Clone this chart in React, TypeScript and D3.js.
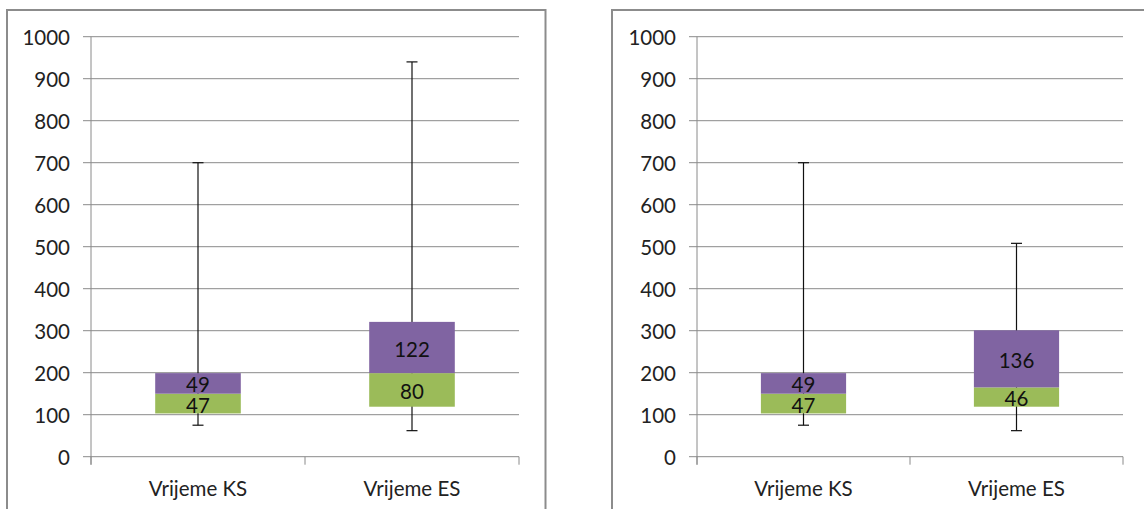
import React from "react";
import * as d3 from "d3";

const categories = ["Vrijeme KS", "Vrijeme ES"];
const yTicks = [0, 100, 200, 300, 400, 500, 600, 700, 800, 900, 1000];

// left panel
const leftMin = [75, 62];
const leftQ1 = [103, 119];
const leftLower = [47, 80];
const leftUpper = [49, 122];
const leftMax = [700, 940];

// right panel
const rightMin = [75, 62];
const rightQ1 = [103, 119];
const rightLower = [47, 46];
const rightUpper = [49, 136];
const rightMax = [700, 508];

const PURPLE = "#8064A2";
const GREEN = "#9BBB59";
const GRID = "#8a8a8a";
const FONT = "Lato, 'Open Sans', sans-serif";
const FS = 20.5;

type PanelProps = {
  frameX0: number;
  frameX1: number;
  plotX0: number;
  plotX1: number;
  mins: number[];
  q1s: number[];
  lowers: number[];
  uppers: number[];
  maxs: number[];
};

function Panel(p: PanelProps) {
  const y = d3.scaleLinear().domain([0, 1000]).range([456.7, 36.7]);
  const x = d3.scaleBand<string>().domain(categories).range([p.plotX0, p.plotX1]).padding(0);
  const bw = x.bandwidth() * 0.4;
  const boundaries = [p.plotX0, ...categories.map((c) => (x(c) as number) + x.bandwidth())];
  return (
    <g>
      <rect
        x={p.frameX0}
        y={10}
        width={p.frameX1 - p.frameX0}
        height={520}
        fill="white"
        stroke="#8c8c8c"
        strokeWidth={2}
      />
      {yTicks.map((t) => (
        <g key={t}>
          <line x1={p.plotX0 - 8} x2={p.plotX1} y1={y(t)} y2={y(t)} stroke={GRID} strokeWidth={1} />
          <text
            x={p.plotX0 - 21}
            y={y(t)}
            textAnchor="end"
            dominantBaseline="central"
            fontFamily={FONT}
            fontSize={FS}
            fill="#222"
          >
            {t}
          </text>
        </g>
      ))}
      <line x1={p.plotX0} x2={p.plotX0} y1={y(1000)} y2={y(0) + 8} stroke={GRID} strokeWidth={1} />
      {boundaries.map((b, i) => (
        <line key={i} x1={b} x2={b} y1={y(0)} y2={y(0) + 8} stroke={GRID} strokeWidth={1} />
      ))}
      {categories.map((c, i) => {
        const cx = (x(c) as number) + x.bandwidth() / 2;
        const q1 = p.q1s[i];
        const med = q1 + p.lowers[i];
        const q3 = med + p.uppers[i];
        return (
          <g key={c}>
            <line x1={cx} x2={cx} y1={y(p.mins[i])} y2={y(p.maxs[i])} stroke="#111" strokeWidth={1.2} />
            <line x1={cx - 5.5} x2={cx + 5.5} y1={y(p.mins[i])} y2={y(p.mins[i])} stroke="#111" strokeWidth={1.2} />
            <line x1={cx - 5.5} x2={cx + 5.5} y1={y(p.maxs[i])} y2={y(p.maxs[i])} stroke="#111" strokeWidth={1.2} />
            <rect x={cx - bw / 2} y={y(med)} width={bw} height={y(q1) - y(med)} fill={GREEN} />
            <rect x={cx - bw / 2} y={y(q3)} width={bw} height={y(med) - y(q3)} fill={PURPLE} />
            <text
              x={cx}
              y={(y(q1) + y(med)) / 2 + 1}
              textAnchor="middle"
              dominantBaseline="central"
              fontFamily={FONT}
              fontSize={FS}
              fill="#111"
            >
              {p.lowers[i]}
            </text>
            <text
              x={cx}
              y={(y(med) + y(q3)) / 2 + 1}
              textAnchor="middle"
              dominantBaseline="central"
              fontFamily={FONT}
              fontSize={FS}
              fill="#111"
            >
              {p.uppers[i]}
            </text>
            <text
              x={cx}
              y={488}
              textAnchor="middle"
              dominantBaseline="central"
              fontFamily={FONT}
              fontSize={FS}
              fill="#222"
            >
              {c}
            </text>
          </g>
        );
      })}
    </g>
  );
}

export default function App() {
  return (
    <svg
      width={1144}
      height={509}
      style={{ position: "absolute", left: 0, top: 0, background: "white" }}
    >
      <rect x={0} y={0} width={1144} height={509} fill="white" />
      <Panel
        frameX0={7}
        frameX1={545.5}
        plotX0={91}
        plotX1={519}
        mins={leftMin}
        q1s={leftQ1}
        lowers={leftLower}
        uppers={leftUpper}
        maxs={leftMax}
      />
      <Panel
        frameX0={612}
        frameX1={1160}
        plotX0={697}
        plotX1={1123}
        mins={rightMin}
        q1s={rightQ1}
        lowers={rightLower}
        uppers={rightUpper}
        maxs={rightMax}
      />
    </svg>
  );
}
